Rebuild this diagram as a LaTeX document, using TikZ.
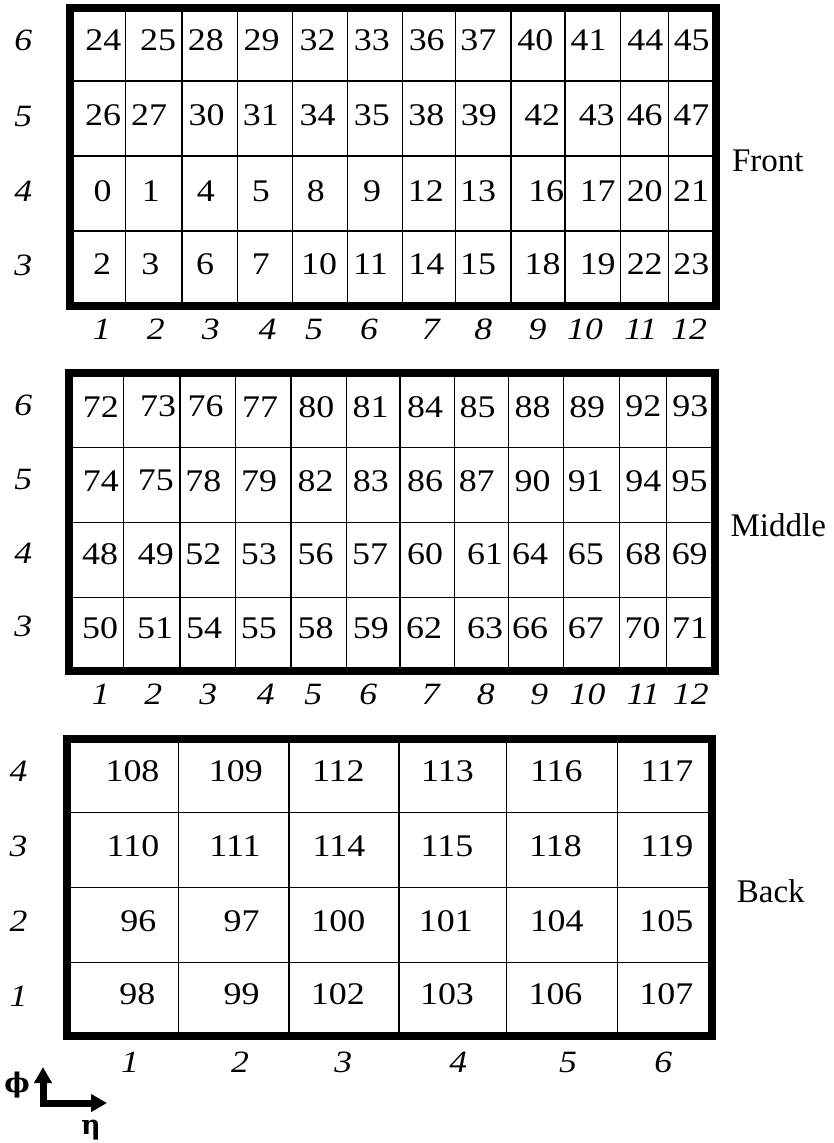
\documentclass[tikz,border=0pt]{standalone}
\usepackage{fontspec}
\setmainfont{Liberation Serif}
\newfontfamily\numfont{Liberation Serif}[FakeStretch=1.14]
\newfontfamily\labfont{Liberation Serif Italic}[FakeStretch=1.15]
\newfontfamily\greekf{DejaVu Serif}
\usetikzlibrary{arrows.meta}
\begin{document}
\begin{tikzpicture}[x=1pt,y=-1pt,
  num/.style={font=\fontsize{31.5}{31.5}\numfont, inner sep=0pt},
  lab/.style={font=\fontsize{31}{31}\labfont, inner sep=0pt},
  title/.style={font=\fontsize{33}{33}\selectfont, inner sep=0pt},
  gridline/.style={line width=1.3pt},
  frame/.style={line width=8pt, line join=miter},
  axis/.style={line width=7pt, line join=miter,
    {Triangle[width=17pt,length=16pt]}-{Triangle[width=17pt,length=16pt]}},
  greek/.style={font=\fontsize{27}{27}\greekf\bfseries, inner sep=0pt}]
\useasboundingbox (0,0) rectangle (833,1143);

% ---------------- Front ----------------
\foreach \x in {125.3,182,237.7,292.7,347.7,402.7,455.7,511,565,620.7,668.7}
  \draw[gridline] (\x,7.5) -- (\x,306);
\foreach \y in {81,156,231}
  \draw[gridline] (70,\y) -- (716,\y);
\draw[frame] (70,7.5) rectangle (716,306);

\foreach \x/\t in {103.3/24,158/25,205.8/28,261.5/29,317.5/32,371.8/33,426.7/36,478.3/37,535.3/40,588.5/41,645.3/44,691.7/45}
  \node[num] (n\t) at (\x,40.5) {\t};
\foreach \x/\t in {103.2/26,149.2/27,206.7/30,260.8/31,317.7/34,371.8/35,426.3/38,478.8/39,542.2/42,596.7/43,644.7/46,691.3/47}
  \node[num] (n\t) at (\x,115) {\t};
\foreach \x/\t in {102.5/0,150.8/1,205.8/4,260.8/5,315.8/8,372.2/9,425.8/12,478/13,546.2/16,597.7/17,644.7/20,691/21}
  \node[num] (n\t) at (\x,191) {\t};
\foreach \x/\t in {102.2/2,150.3/3,205/6,260.8/7,319.2/10,370.5/11,426.3/14,478/15,542.5/18,597.7/19,644.7/22,691.3/23}
  \node[num] (n\t) at (\x,264.5) {\t};

\foreach \y/\t in {40.8/6,116.7/5,191.7/4,265/3}
  \node[lab] (fr\t) at (23.3,\y) {\t};
\foreach \x/\t in {101.7/1,155.8/2,210.8/3,267.5/4,314/5,369/6,430.8/7,483.3/8,537.5/9,585/10,640.8/11,689.2/12}
  \node[lab] (fc\t) at (\x,329) {\t};
\node[title] (front) at (767.8,160.8) {Front};

% ---------------- Middle ----------------
\foreach \x in {123.3,180,235.7,291,346.7,400,454.3,508.3,563.3,619.3,666.7}
  \draw[gridline] (\x,373.3) -- (\x,671);
\foreach \y in {447.3,522.3,597.3}
  \draw[gridline] (68.7,\y) -- (714.5,\y);
\draw[frame] (68.7,373.3) rectangle (714.5,671);

\foreach \x/\t in {100.8/72,158/73,205.5/76,260/77,316.3/80,370.5/81,425/84,477.5/85,532.5/88,587.2/89,643.3/92,690.3/93}
  \node[num] (n\t) at (\x,406.7) {\t};
\foreach \x/\t in {100.8/74,155.8/75,203.3/78,259.2/79,315.5/82,370.8/83,425/86,476.7/87,532.5/90,585.8/91,643.3/94,689.5/95}
  \node[num] (n\t) at (\x,480.8) {\t};
\foreach \x/\t in {100.2/48,155.8/49,203.3/52,258.8/53,315.5/56,370/57,425/60,485/61,530/64,585.8/65,643.3/68,689.7/69}
  \node[num] (n\t) at (\x,554.2) {\t};
\foreach \x/\t in {100/50,155/51,204/54,258.8/55,315.5/58,370.8/59,424/62,485/63,530/66,585.8/67,642.5/70,690/71}
  \node[num] (n\t) at (\x,628.3) {\t};

\foreach \y/\t in {405.8/6,479/5,553/4,626.7/3}
  \node[lab] (mr\t) at (23.3,\y) {\t};
\foreach \x/\t in {100.8/1,153.3/2,208.3/3,265.8/4,313.3/5,368.3/6,430.8/7,485.8/8,539.2/9,587.5/10,643.3/11,690.8/12}
  \node[lab] (mc\t) at (\x,694) {\t};
\node[title] (middle) at (778.3,525) {Middle};

% ---------------- Back ----------------
\foreach \x in {178.3,289,399,506.7,617.3}
  \draw[gridline] (\x,738.5) -- (\x,1036);
\foreach \y in {812.7,887.3,962.3}
  \draw[gridline] (67,\y) -- (712,\y);
\draw[frame] (67,738.5) rectangle (712,1036);

\foreach \x/\t in {132.5/108,235.8/109,338.3/112,447.5/113,556.3/116,667/117}
  \node[num] (n\t) at (\x,771.3) {\t};
\foreach \x/\t in {133/110,235/111,339/114,447/115,555.5/118,667/119}
  \node[num] (n\t) at (\x,845.8) {\t};
\foreach \x/\t in {138.3/96,241.7/97,338.3/100,445.8/101,556.7/104,666.3/105}
  \node[num] (n\t) at (\x,920.8) {\t};
\foreach \x/\t in {137.3/98,241.7/99,337.8/102,447/103,555.5/106,666.3/107}
  \node[num] (n\t) at (\x,994.2) {\t};

\foreach \y/\t in {771.7/4,846.7/3,921.7/2,995.8/1}
  \node[lab] (br\t) at (18.5,\y) {\t};
\foreach \x/\t in {130/1,240/2,343.3/3,458.3/4,568/5,663.3/6}
  \node[lab] (bc\t) at (\x,1062.5) {\t};
\node[title] (back) at (770.8,890.8) {Back};

% ---------------- axes ----------------
\coordinate (axup) at (43,1067);
\coordinate (axcorner) at (43,1103);
\coordinate (axright) at (107,1103);
\draw[axis] (axup) -- (axcorner) -- (axright);
\node[greek] (phi) at (17,1085) {ϕ};
\node[greek, anchor=base] (eta) at (91,1134) {η};
\end{tikzpicture}
\end{document}
